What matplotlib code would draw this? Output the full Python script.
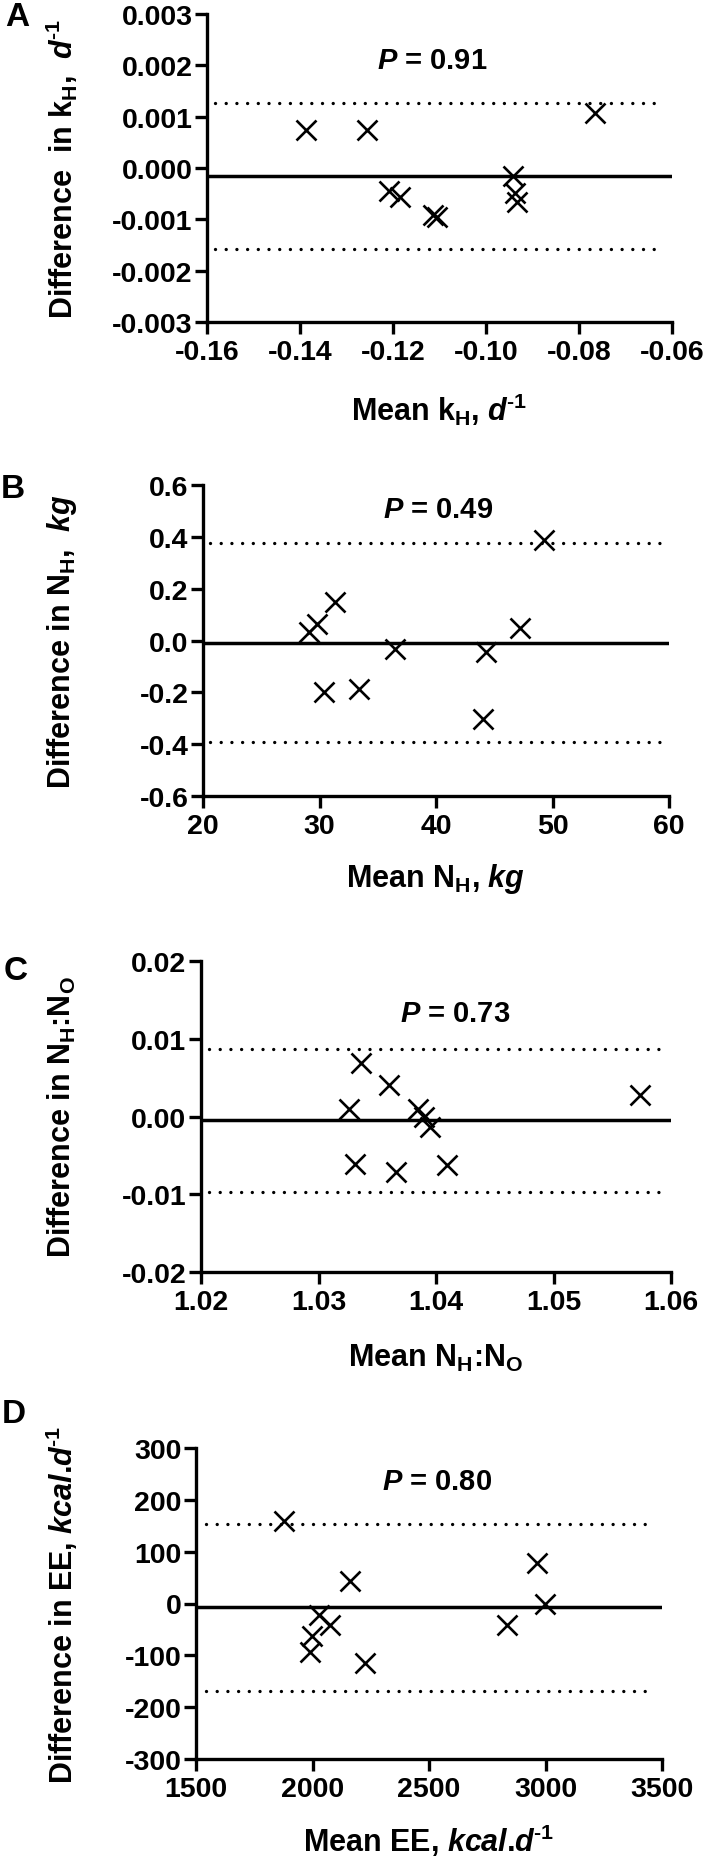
import matplotlib
matplotlib.use('Agg')
import matplotlib.pyplot as plt
from matplotlib.ticker import FormatStrFormatter, MultipleLocator

plt.rcParams['font.family'] = ['Liberation Sans', 'DejaVu Sans']
plt.rcParams['font.weight'] = 'bold'
plt.rcParams['axes.labelweight'] = 'bold'
plt.rcParams['axes.unicode_minus'] = False
plt.rcParams['mathtext.fontset'] = 'custom'
plt.rcParams['mathtext.rm'] = 'Liberation Sans:bold'
plt.rcParams['mathtext.it'] = 'Liberation Sans:italic:bold'
plt.rcParams['mathtext.bf'] = 'Liberation Sans:bold'

# Panel A: k_H
kh_mean = [-0.1388, -0.1255, -0.1208, -0.1186, -0.1115, -0.1105, -0.0941, -0.0938, -0.0934, -0.0766]
kh_diff = [0.00075, 0.00074, -0.00044, -0.00056, -0.00091, -0.00096, -0.00015, -0.00048, -0.00066, 0.00108]
kh_limits = [-0.00015, 0.00127, -0.00158]  # bias, upper, lower

# Panel B: N_H
nh_mean = [29.06, 29.77, 31.33, 30.35, 33.36, 36.5, 44.3, 44.0, 47.2, 49.3]
nh_diff = [0.034, 0.062, 0.147, -0.199, -0.189, -0.031, -0.044, -0.303, 0.048, 0.388]
nh_limits = [-0.010, 0.377, -0.392]

# Panel C: N_H:N_O
ratio_mean = [1.0326, 1.0336, 1.0331, 1.0360, 1.0366, 1.0385, 1.0390, 1.0395, 1.0409, 1.0574]
ratio_diff = [0.0010, 0.0069, -0.0061, 0.0040, -0.0071, 0.0010, 0.0000, -0.0013, -0.0062, 0.0028]
ratio_limits = [-0.0005, 0.0087, -0.0097]

# Panel D: EE
ee_mean = [1876, 2159, 2964, 2999, 2833, 2028, 2075, 1999, 1989, 2227]
ee_diff = [160, 44, 78, 0, -41, -22, -41, -63, -93, -114]
ee_limits = [-7, 154, -169]

p_values = ['0.91', '0.49', '0.73', '0.80']

W, H = 711, 1865
fig = plt.figure(figsize=(W / 100, H / 100), dpi=100)

HY = '\u2010'  # plain hyphen inside mathtext superscripts
INV = r'$^{\mathit{' + HY + '1}}$'


def rect(l, r, t, b):
    return [l / W, 1 - b / H, (r - l) / W, (b - t) / H]


panels = [
    dict(box=(207, 672, 15, 323), x=kh_mean, y=kh_diff, lim=kh_limits,
         xlim=(-0.16, -0.06), xstep=0.02, xfmt='%.2f',
         ylim=(-0.003, 0.003), ystep=0.001, yfmt='%.3f',
         ylabel=r'Difference  in k$_\mathregular{H}$,  $\mathit{d}$' + INV,
         xlabel=r'Mean k$_\mathregular{H}$, $\mathit{d}$' + INV,
         xlab_base=421, ptxt=(487, 0.85), letter=('A', 17, 18), dots=(0.017, 0.98)),
    dict(box=(203, 669, 486, 797), x=nh_mean, y=nh_diff, lim=nh_limits,
         xlim=(20, 60), xstep=10, xfmt='%d',
         ylim=(-0.6, 0.6), ystep=0.2, yfmt='%.1f',
         ylabel=r'Difference in N$_\mathregular{H}$,  $\mathit{kg}$',
         xlabel=r'Mean N$_\mathregular{H}$, $\mathit{kg}$',
         xlab_base=887, ptxt=(493, 0.923), letter=('B', 13, 490), dots=(0.015, 0.985)),
    dict(box=(201, 671, 962, 1273), x=ratio_mean, y=ratio_diff, lim=ratio_limits,
         xlim=(1.02, 1.06), xstep=0.01, xfmt='%.2f',
         ylim=(-0.02, 0.02), ystep=0.01, yfmt='%.2f',
         ylabel=r'Difference in N$_\mathregular{H}$:N$_\mathregular{O}$',
         xlabel=r'Mean N$_\mathregular{H}$:N$_\mathregular{O}$',
         xlab_base=1367, ptxt=(510, 0.833), letter=('C', 16, 972), dots=(0.017, 0.983)),
    dict(box=(196, 662, 1449, 1760), x=ee_mean, y=ee_diff, lim=ee_limits,
         xlim=(1500, 3500), xstep=500, xfmt='%d',
         ylim=(-300, 300), ystep=100, yfmt='%d',
         ylabel=r'Difference in EE, $\mathit{kcal}$.$\mathit{d}$' + INV,
         xlabel=r'Mean EE, $\mathit{kcal}$.$\mathit{d}$' + INV,
         xlab_base=1852, ptxt=(492, 0.894), letter=('D', 14, 1415), dots=(0.021, 0.979)),
]

for p, pv in zip(panels, p_values):
    l, r, t, b = p['box']
    ax = fig.add_axes(rect(l, r, t, b))
    ax.set_xlim(*p['xlim'])
    ax.set_ylim(*p['ylim'])
    ax.xaxis.set_major_locator(MultipleLocator(p['xstep']))
    ax.yaxis.set_major_locator(MultipleLocator(p['ystep']))
    ax.xaxis.set_major_formatter(FormatStrFormatter(p['xfmt']))
    ax.yaxis.set_major_formatter(FormatStrFormatter(p['yfmt']))
    for s in ['top', 'right']:
        ax.spines[s].set_visible(False)
    for s in ['left', 'bottom']:
        ax.spines[s].set_linewidth(2.4)
    ax.tick_params(direction='out', length=8.5, width=2.4, labelsize=20.5)
    ax.tick_params(axis='x', pad=4)
    ax.tick_params(axis='y', pad=2)
    for lbl in ax.get_xticklabels() + ax.get_yticklabels():
        lbl.set_fontweight('bold')

    bias, upper, lower = p['lim']
    ax.axhline(bias, 0, 1, color='black', lw=2.5, solid_capstyle='butt')
    for v in (upper, lower):
        ax.axhline(v, p['dots'][0], p['dots'][1], color='black', lw=2.4,
                   linestyle=(0, (0.01, 3.2)), dash_capstyle='round')

    ax.plot(p['x'], p['y'], 'x', ms=15, mew=1.9, color='black', clip_on=False)

    ax.text((p['ptxt'][0] - l) / (r - l), p['ptxt'][1], r'$\mathit{P}$ = ' + pv,
            transform=ax.transAxes, ha='right', va='center', fontsize=21,
            fontweight='bold')

    ax.set_ylabel(p['ylabel'], fontsize=22, va='center', fontweight='bold')
    ax.yaxis.set_label_coords((62 - l) / (r - l), 0.5)
    ax.set_xlabel(p['xlabel'], fontsize=22, va='baseline', fontweight='bold')
    ax.xaxis.set_label_coords(0.5, -(p['xlab_base'] - b) / (b - t))

    letter, lx, ly = p['letter']
    fig.text(lx / W, 1 - ly / H, letter, fontsize=24, ha='center', va='center',
             fontweight='bold')

fig.savefig('out.png', dpi=100)
